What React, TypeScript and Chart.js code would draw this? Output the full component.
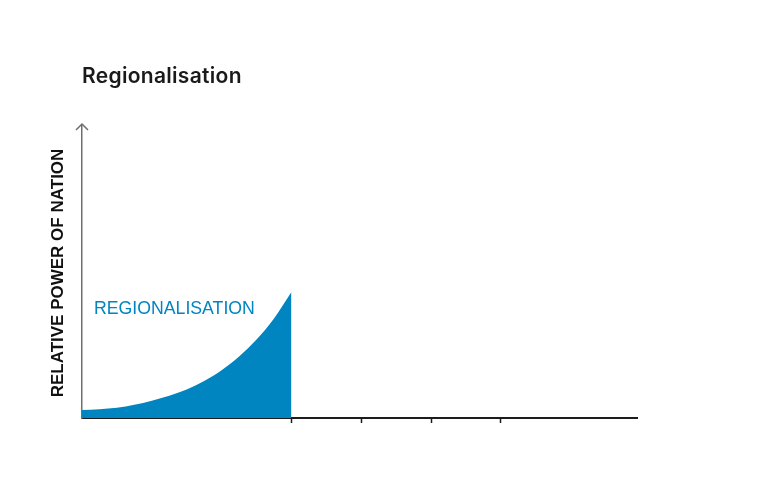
import { useEffect, useRef } from "react"
import { Chart, registerables } from "chart.js"
import type { Plugin } from "chart.js"

Chart.register(...registerables)

const chartTitle = "Regionalisation"
const yAxisTitle = "RELATIVE POWER OF NATION"
const seriesLabel = "REGIONALISATION"

// curve (x in tick units, y in % of axis height)
const curveX = [0, 0.25, 0.5, 0.75, 1, 1.25, 1.5, 1.75, 2, 2.25, 2.5, 2.75, 3]
const curveY = [2.7, 3.0, 3.5, 4.5, 5.9, 7.6, 9.7, 12.6, 16.3, 21.0, 26.8, 34.0, 43]
const xTicks = [3, 4, 5, 6]

const BLUE = "#0085c0"

const annotations: Plugin<"line"> = {
  id: "annotations",
  afterDraw(chart) {
    const { ctx, chartArea } = chart
    ctx.save()

    // arrow head on the y axis
    ctx.strokeStyle = "#6e6e6e"
    ctx.lineWidth = 1.5
    ctx.beginPath()
    ctx.moveTo(chartArea.left - 6, chartArea.top + 5)
    ctx.lineTo(chartArea.left, chartArea.top - 1)
    ctx.lineTo(chartArea.left + 6, chartArea.top + 5)
    ctx.stroke()

    ctx.textAlign = "left"
    ctx.textBaseline = "alphabetic"

    // chart title
    ctx.fillStyle = "#1a1a1a"
    ctx.font = "600 21px Inter"
    ;(ctx as any).letterSpacing = "0.3px"
    ctx.fillText(chartTitle, chartArea.left, 83)
    ;(ctx as any).letterSpacing = "0px"

    // series label
    ctx.fillStyle = BLUE
    ctx.font = "17.7px 'Liberation Sans'"
    ctx.fillText(seriesLabel, 94, 313.5)

    // y axis title
    ctx.fillStyle = "#111"
    ctx.font = "bold 17px 'Liberation Sans'"
    ctx.textAlign = "center"
    ctx.translate(62.5, 273)
    ctx.rotate(-Math.PI / 2)
    ctx.fillText(yAxisTitle, 0, 0)

    ctx.restore()
  },
}

export default function App() {
  const chartRef = useRef<HTMLCanvasElement>(null)
  const chartInstance = useRef<Chart | null>(null)

  useEffect(() => {
    document.body.style.margin = "0"
    if (!chartRef.current) return
    if (chartInstance.current) chartInstance.current.destroy()

    chartInstance.current = new Chart(chartRef.current, {
      type: "line",
      data: {
        datasets: [
          {
            label: seriesLabel,
            data: curveX.map((x, i) => ({ x, y: curveY[i] })),
            backgroundColor: BLUE,
            borderWidth: 0,
            pointRadius: 0,
            fill: "origin",
            cubicInterpolationMode: "monotone",
          },
        ],
      },
      options: {
        animation: false,
        responsive: false,
        layout: { padding: { left: 82, top: 125, right: 143, bottom: 71 } },
        plugins: {
          legend: { display: false },
          tooltip: { enabled: false },
          title: { display: false },
        },
        scales: {
          x: {
            type: "linear",
            min: 0,
            max: 7.95,
            z: 1,
            afterBuildTicks: (scale) => {
              scale.ticks = xTicks.map((value) => ({ value }))
            },
            afterFit: (scale) => {
              scale.height = 0
            },
            ticks: { display: false },
            grid: {
              drawOnChartArea: false,
              drawTicks: true,
              tickLength: 5,
              tickColor: "#1c1c1c",
              tickWidth: 1.5,
            },
            border: { display: true, color: "#1c1c1c", width: 2 },
          },
          y: {
            min: 0,
            max: 100,
            z: 1,
            afterFit: (scale) => {
              scale.width = 0
            },
            ticks: { display: false },
            grid: { display: false },
            border: { display: true, color: "#6e6e6e", width: 1.5 },
          },
        },
      },
      plugins: [annotations],
    })

    return () => {
      if (chartInstance.current) {
        chartInstance.current.destroy()
        chartInstance.current = null
      }
    }
  }, [])

  return (
    <div style={{ width: 780, height: 489, background: "#fff" }}>
      <canvas ref={chartRef} width={780} height={489} />
    </div>
  )
}
